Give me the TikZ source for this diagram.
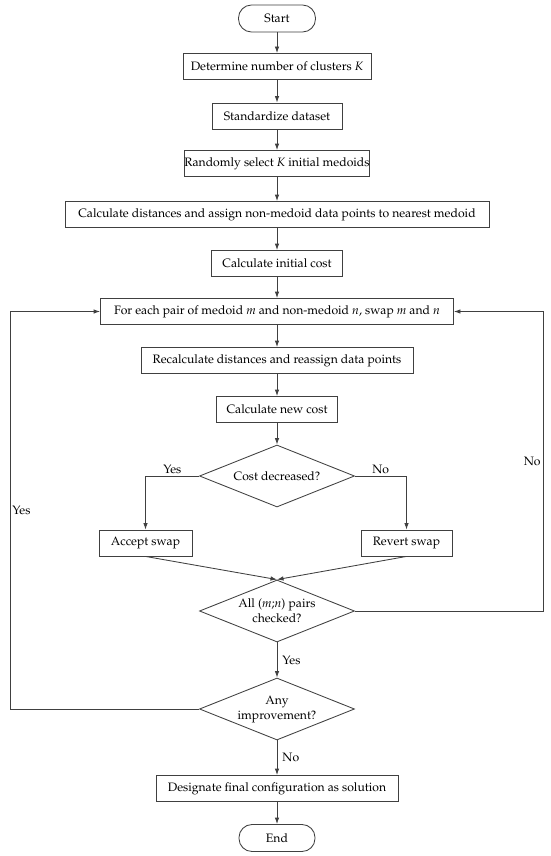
\documentclass[tikz,border=0pt]{standalone}
\usepackage[T1]{fontenc}
\usepackage{mathpazo}
\usetikzlibrary{shapes.geometric,arrows.meta}
\begin{document}
\begin{tikzpicture}[x=1pt,y=-1pt,
  font=\fontsize{12.2}{15}\selectfont,
  box/.style={draw=black!75, line width=0.85pt, minimum height=26pt, inner sep=0pt, align=center, text=black},
  term/.style={box, rounded corners=13pt, minimum height=27pt},
  dec/.style={diamond, draw=black!75, line width=0.85pt, aspect=2.5, minimum width=155pt, minimum height=62pt, inner sep=0pt, align=center, text=black},
  arr/.style={draw=black!75, line width=0.85pt, -{Latex[length=6.5pt,width=4.5pt]}},
  lbl/.style={inner sep=2pt, text=black}]
\useasboundingbox (0,0) rectangle (550,856);
\fill[white] (0,0) rectangle (550,856);

\node[term, minimum width=77pt] (start) at (277,18.5) {Start};
\node[box, minimum width=188pt] (det) at (277,66.5) {Determine number of clusters \textit{K}};
\node[box, minimum width=130pt] (std) at (277,116) {Standardize dataset};
\node[box, minimum width=183pt] (rand) at (277,163.5) {Randomly select \textit{K} initial medoids};
\node[box, minimum width=424pt] (dist) at (277,214.5) {Calculate distances and assign non-medoid data points to nearest medoid};
\node[box, minimum width=131pt] (init) at (277,263.5) {Calculate initial cost};
\node[box, minimum width=353pt] (pair) at (277,311.5) {For each pair of medoid \textit{m} and non-medoid \textit{n}, swap \textit{m} and \textit{n}};
\node[box, minimum width=272pt] (recalc) at (277,360.5) {Recalculate distances and reassign data points};
\node[box, minimum width=121pt] (newc) at (277,409.5) {Calculate new cost};
\node[dec] (cd) at (277,476) {Cost decreased?};
\node[box, minimum width=93pt] (acc) at (145.5,543) {Accept swap};
\node[box, minimum width=91pt] (rev) at (406.5,543) {Revert swap};
\node[dec] (all) at (277,611) {All (\textit{m};\textit{n}) pairs\\checked?};
\node[dec] (any) at (277,709) {Any\\improvement?};
\node[box, minimum width=242pt] (des) at (277,788.5) {Designate final configuration as solution};
\node[term, minimum width=76pt] (end) at (277,838) {End};

\coordinate (rx) at (543,0);
\coordinate (lx) at (10,0);
\coordinate (rr) at (all.east -| rx);
\coordinate (ll) at (any.west -| lx);

\draw[arr] (start) -- (det);
\draw[arr] (det) -- (std);
\draw[arr] (std) -- (rand);
\draw[arr] (rand) -- (dist);
\draw[arr] (dist) -- (init);
\draw[arr] (init) -- (pair);
\draw[arr] (pair) -- (recalc);
\draw[arr] (recalc) -- (newc);
\draw[arr] (newc) -- (cd);
\draw[arr] (cd.west) -| node[lbl, above, pos=0.25] {Yes} (acc.north);
\draw[arr] (cd.east) -| node[lbl, above, pos=0.25] {No} (rev.north);
\draw[arr] (acc.south) -- (all.north);
\draw[arr] (rev.south) -- (all.north);
\draw[arr] (all.south) -- node[lbl, right, xshift=3pt] {Yes} (any.north);
\draw[arr] (any.south) -- node[lbl, right, xshift=3pt] {No} (des.north);
\draw[arr] (des) -- (end);
\draw[arr] (all.east) -- (rr) |- node[lbl, left, pos=0.25] {No} (pair.east);
\draw[arr] (any.west) -- (ll) |- node[lbl, right, pos=0.25] {Yes} (pair.west);
\end{tikzpicture}
\end{document}
